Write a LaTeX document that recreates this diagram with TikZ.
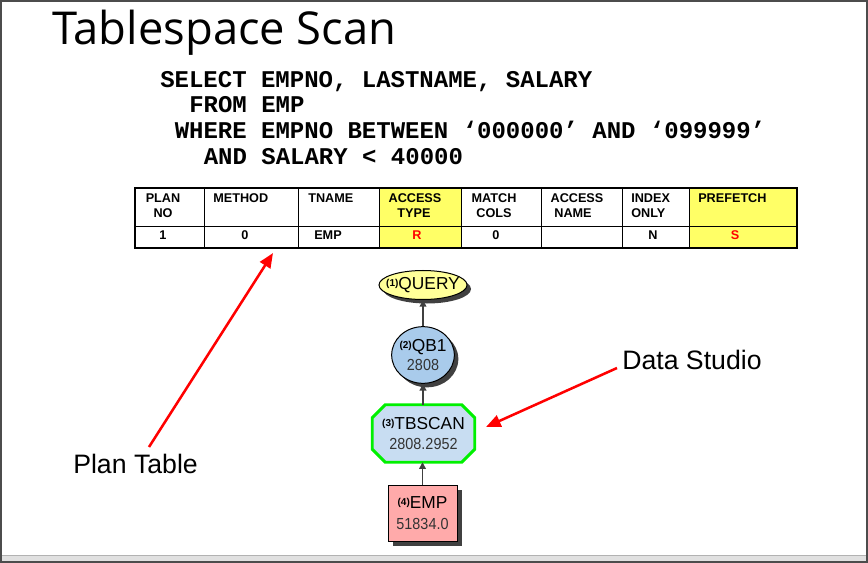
\documentclass[tikz,border=0pt]{standalone}
\usepackage{fontspec}
\usepackage{graphicx}
\setmainfont{Liberation Sans}
\newfontfamily\titlefont{Open Sans}
\newfontfamily\sqlfont{Liberation Mono}
\usetikzlibrary{shapes.geometric,shadows,arrows.meta,calc}
\definecolor{tabyellow}{HTML}{FFFF66}
\definecolor{qyellow}{HTML}{FFFF99}
\definecolor{qbblue}{HTML}{A9CBEB}
\definecolor{tbblue}{HTML}{C8DDF2}
\definecolor{emppink}{HTML}{FFAAAA}
\definecolor{numgray}{HTML}{333333}
\definecolor{flowgray}{HTML}{404040}
\definecolor{opgreen}{HTML}{00F000}
\newcommand\opnum[1]{\raisebox{2.4pt}{\fontsize{7.5}{8}\selectfont\bfseries(#1)}}
\newcommand\opval[1]{{\color{numgray}\fontsize{12}{13}\selectfont\scalebox{0.9}[1]{#1}}}
\begin{document}
\begin{tikzpicture}[x=0.75pt,y=-0.75pt,
  sqlline/.style={anchor=base west,inner sep=0,font=\sqlfont\bfseries\fontsize{18}{20}\selectfont},
  hdr/.style={anchor=base,inner sep=0,font=\bfseries\fontsize{9.5}{11}\selectfont},
  hdrl/.style={anchor=base west,inner sep=0,font=\bfseries\fontsize{9.5}{11}\selectfont},
  shad/.style={drop shadow={shadow xshift=3pt,shadow yshift=-3pt,fill=black!75,opacity=1}},
  optext/.style={inner sep=0,align=center,font=\fontsize{13}{14.5}\selectfont},
  flow/.style={draw=flowgray,line width=1.1pt,-{Triangle[length=5pt,width=5pt]}},
  callout/.style={draw=red,line width=1.9pt,-{Triangle[length=11pt,width=9pt]}},
  lbl/.style={anchor=base west,inner sep=0,font=\fontsize{20}{24}\selectfont}
]
\useasboundingbox (0,0) rectangle (868,563);
\fill[white] (0,0) rectangle (868,563);
\fill[black!12] (1,555) rectangle (867,562);
\draw[black!30,line width=0.75pt] (1,555) -- (867,555);
\draw[black!70,line width=1.2pt] (0.8,0.8) rectangle (867.2,562.2);

% title
\node[anchor=base west,inner sep=0,font=\titlefont\fontsize{34}{40}\selectfont] (title) at (52,45) {Tablespace Scan};

% SQL
\node[sqlline] (sql1) at (160,88) {SELECT EMPNO, LASTNAME, SALARY};
\node[sqlline] (sql2) at (189,113) {FROM EMP};
\node[sqlline] (sql3) at (174.5,139) {WHERE EMPNO BETWEEN ‘000000’ AND ‘099999’};
\node[sqlline] (sql4) at (203.5,164.5) {AND SALARY < 40000};

% plan table
\fill[tabyellow] (379,188) rectangle (461,248);
\fill[tabyellow] (689,188) rectangle (797,248);
\draw[line width=0.75pt] (135,227) -- (797,227);
\foreach \cx in {204,298,379,461,541,622,689}
  \draw[line width=0.75pt] (\cx,188) -- (\cx,248);
\draw[line width=1.5pt] (135,188) rectangle (797,248);

\node[hdr] (h1a) at (163,203) {PLAN};
\node[hdr] (h1b) at (163,218) {NO};
\node[hdrl] (h2) at (213,203) {METHOD};
\node[hdrl] (h3) at (308,203) {TNAME};
\node[hdr] (h4a) at (415,203) {ACCESS};
\node[hdr] (h4b) at (414,218) {TYPE};
\node[hdr] (h5a) at (494,203) {MATCH};
\node[hdr] (h5b) at (494,218) {COLS};
\node[hdr] (h6a) at (577,203) {ACCESS};
\node[hdr] (h6b) at (573,218) {NAME};
\node[hdrl] (h7a) at (631,203) {INDEX};
\node[hdrl] (h7b) at (631,218) {ONLY};
\node[hdrl] (h8) at (698,203) {PREFETCH};

\node[hdr] (d1) at (163,240) {1};
\node[hdr] (d2) at (245,240) {0};
\node[hdr] (d3) at (328,240) {EMP};
\node[hdr,text=red] (d4) at (417,240) {R};
\node[hdr] (d5) at (496,240) {0};
\node[hdr] (d7) at (653,240) {N};
\node[hdr,text=red] (d8) at (735,240) {S};

% access path graph
\node[ellipse,inner sep=0,draw=black,line width=0.75pt,fill=qyellow,shad,
      minimum width=66pt,minimum height=21.75pt] (q) at (423,285) {};
\node[optext] (qt) at (q.center) {\opnum{1}QUERY};

\node[ellipse,inner sep=0,draw=black,line width=0.75pt,fill=qbblue,shad,
      minimum width=47pt,minimum height=42.5pt] (qb) at (423,355) {};
\node[optext] (qbt) at (qb.center) {\opnum{2}QB1\\[0pt]\opval{2808}};

\node[inner sep=0,minimum width=76.5pt,minimum height=42.75pt] (tb) at (423.5,433.5) {};
\fill[black!75,shift={(4,4)}]
  ($(tb.north west)+(13,0)$) -- ($(tb.north east)+(-13,0)$) -- ($(tb.north east)+(0,13)$)
  -- ($(tb.south east)+(0,-13)$) -- ($(tb.south east)+(-13,0)$) -- ($(tb.south west)+(13,0)$)
  -- ($(tb.south west)+(0,-13)$) -- ($(tb.north west)+(0,13)$) -- cycle;
\filldraw[fill=tbblue,draw=opgreen,line width=2.2pt,line join=miter]
  ($(tb.north west)+(13,0)$) -- ($(tb.north east)+(-13,0)$) -- ($(tb.north east)+(0,13)$)
  -- ($(tb.south east)+(0,-13)$) -- ($(tb.south east)+(-13,0)$) -- ($(tb.south west)+(13,0)$)
  -- ($(tb.south west)+(0,-13)$) -- ($(tb.north west)+(0,13)$) -- cycle;
\node[optext] (tbt) at (tb.center) {\opnum{3}TBSCAN\\[0pt]\opval{2808.2952}};

\node[rectangle,inner sep=0,draw=black,line width=0.75pt,fill=emppink,
      drop shadow={shadow xshift=3.75pt,shadow yshift=-3.75pt,fill=black!75,opacity=1},
      minimum width=51.75pt,minimum height=42pt] (emp) at (422.5,513) {};
\node[optext] (empt) at (emp.center) {\opnum{4}EMP\\[1pt]\opval{51834.0}};

\draw[flow] (emp.north) -- (emp.north |- tb.south);
\draw[flow] (tb.north -| qb.south) -- (qb.south);
\draw[flow] (qb.north) -- (q.south);

% callouts
\node[lbl] (plabel) at (73,473) {Plan Table};
\node[lbl] (dlabel) at (622,369) {Data Studio};
\coordinate (pstart) at (149,447);
\coordinate (ptip) at (273,253);
\coordinate (dstart) at (617,368);
\coordinate (dtip) at (486,427);
\draw[callout] (pstart) -- (ptip);
\draw[callout] (dstart) -- (dtip);
\end{tikzpicture}
\end{document}
